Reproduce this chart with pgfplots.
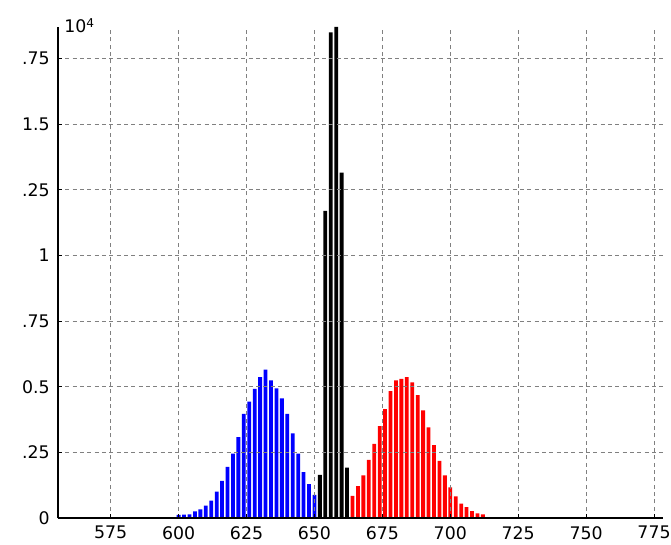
\documentclass[border=0pt]{standalone}
\usepackage{pgfplots}
\pgfplotsset{compat=1.18}
\usepackage{fontspec}
\setmainfont{DejaVu Sans}
\definecolor{gridgray}{RGB}{128,128,128}
\begin{document}
\begin{tikzpicture}
\useasboundingbox (-43.5pt,-19.5pt) rectangle (459.75pt,388.5pt);
\begin{axis}[
  scale only axis, width=453.75pt, height=368.25pt,
  xmin=555.6, xmax=778.3, ymin=0, ymax=18700,
  axis lines*=left, axis line style={black, line width=1.1pt},
  xtick={575,600,...,775}, ytick={0,2500,...,17500},
  yticklabels={0,.25,0.5,.75,1,.25,1.5,.75},
  scaled y ticks=false,
  /pgf/number format/assume math mode=true,
  /pgf/number format/1000 sep={},
  tick label style={font=\fontsize{13}{15}\selectfont},
  xticklabel style={inner sep=0pt, anchor=north, yshift=-6pt},
  yticklabel style={inner sep=0pt, anchor=east, xshift=-6pt},
  tick align=inside, major tick length=3pt, tick style={black, line width=0.6pt},
  grid=major, grid style={gridgray, line width=0.75pt, dash pattern=on 3pt off 2.5pt},
  axis on top,
  clip=false,
]
\addplot[ybar, bar width=1.4, bar shift=0pt, fill=blue, draw=none] coordinates {
(600,120) (602,130) (604,140) (606,250) (608,330) (610,470) (612,660) (614,1000)
(616,1410) (618,1950) (620,2450) (622,3080) (624,3970) (626,4430) (628,4920)
(630,5370) (632,5650) (634,5240) (636,4940) (638,4560) (640,3970) (642,3220)
(644,2450) (646,1750) (648,1290) (650,880)
};
\addplot[ybar, bar width=1.4, bar shift=0pt, fill=black, draw=none] coordinates {
(652,1640) (654,11700) (656,18500) (658,18700) (660,13150) (662,1920)
};
\addplot[ybar, bar width=1.4, bar shift=0pt, fill=red, draw=none] coordinates {
(664,840) (666,1210) (668,1620) (670,2210) (672,2820) (674,3500) (676,4150)
(678,4830) (680,5240) (682,5300) (684,5370) (686,5170) (688,4680) (690,4100)
(692,3450) (694,2780) (696,2180) (698,1620) (700,1170) (702,820) (704,550)
(706,410) (708,260) (710,180) (712,140)
};
\node[anchor=base west, inner sep=0pt, font=\fontsize{13}{15}\selectfont, xshift=4.5pt, yshift=-4.5pt] at (rel axis cs:0,1) {10\textsuperscript{4}};
\end{axis}
\end{tikzpicture}
\end{document}
